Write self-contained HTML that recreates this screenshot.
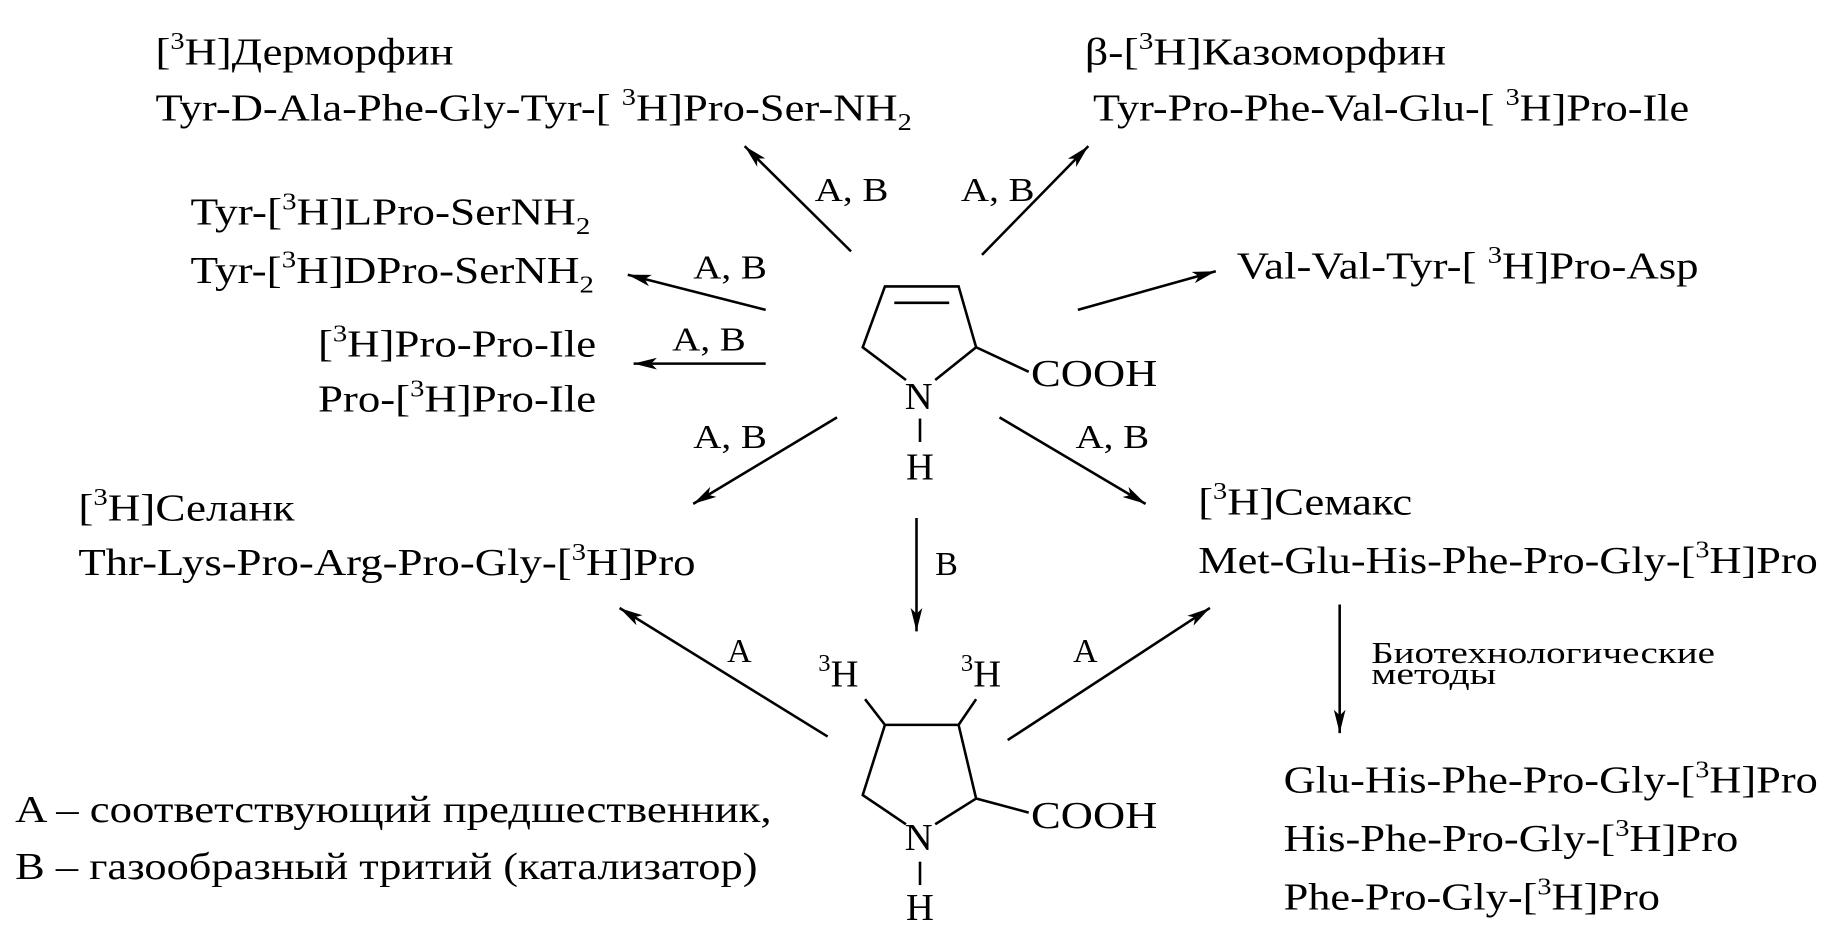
<!DOCTYPE html>
<html><head><meta charset="utf-8"><style>
html,body{margin:0;padding:0;background:#fff;}
svg{display:block;}
text{font-family:"Liberation Serif",serif;font-size:33px;fill:#000;}
.s{font-size:21px;}
.l{font-size:29px;}
</style></head><body>
<svg width="1833" height="933" viewBox="0 0 1568 798" preserveAspectRatio="none" xmlns="http://www.w3.org/2000/svg">
<defs><marker id="a" viewBox="0 0 20 10" refX="20" refY="5" markerWidth="20" markerHeight="10" markerUnits="userSpaceOnUse" orient="auto"><path d="M0,0 L20,5 L0,10 L5,5 Z" fill="#000"/></marker></defs>
<g stroke="#000" stroke-width="2.2" fill="none" marker-end="url(#a)">
<line x1="728" y1="215" x2="637" y2="125"/>
<line x1="840" y1="218" x2="931" y2="125"/>
<line x1="655" y1="265" x2="537" y2="235"/>
<line x1="655" y1="311" x2="542" y2="311"/>
<line x1="922" y1="265" x2="1040" y2="232"/>
<line x1="716" y1="357" x2="593" y2="431"/>
<line x1="855" y1="357" x2="980" y2="431"/>
<line x1="784" y1="443" x2="784" y2="540"/>
<line x1="708" y1="630" x2="530" y2="520"/>
<line x1="862" y1="633" x2="1035" y2="520"/>
<line x1="1146" y1="517" x2="1146" y2="627"/>
</g>
<g stroke="#000" stroke-width="2.2" fill="none">
<polyline points="775,325 738,297 757,245 820,245 835,297 800,325"/>
<line x1="765" y1="259" x2="812" y2="259"/>
<line x1="835" y1="297" x2="880" y2="318"/>
<line x1="787" y1="358" x2="787" y2="378"/>
<polyline points="775,705 738,680 757,620 820,620 835,683 800,705"/>
<line x1="835" y1="683" x2="880" y2="695"/>
<line x1="757" y1="620" x2="740" y2="598"/>
<line x1="820" y1="620" x2="835" y2="598"/>
<line x1="787" y1="737" x2="787" y2="757"/>
</g>
<text x="774" y="350">N</text><text x="775" y="410">H</text>
<text x="882" y="330" textLength="108" lengthAdjust="spacingAndGlyphs">COOH</text>
<text x="774" y="727">N</text><text x="775" y="787">H</text>
<text x="882" y="708" textLength="108" lengthAdjust="spacingAndGlyphs">COOH</text>
<text x="700" y="587"><tspan class="s" dy="-13">3</tspan><tspan dy="13">H</tspan></text>
<text x="822" y="587"><tspan class="s" dy="-13">3</tspan><tspan dy="13">H</tspan></text>

<text x="133" y="55" textLength="255" lengthAdjust="spacingAndGlyphs">[<tspan class="s" dy="-13">3</tspan><tspan dy="13">H]Дерморфин</tspan></text>
<text x="133" y="103" textLength="647" lengthAdjust="spacingAndGlyphs">Tyr-D-Ala-Phe-Gly-Tyr-[ <tspan class="s" dy="-13">3</tspan><tspan dy="13">H]Pro-Ser-NH</tspan><tspan class="s" dy="8">2</tspan></text>
<text x="928" y="55" textLength="309" lengthAdjust="spacingAndGlyphs">β-[<tspan class="s" dy="-13">3</tspan><tspan dy="13">H]Казоморфин</tspan></text>
<text x="935" y="103" textLength="510" lengthAdjust="spacingAndGlyphs">Tyr-Pro-Phe-Val-Glu-[ <tspan class="s" dy="-13">3</tspan><tspan dy="13">H]Pro-Ile</tspan></text>
<text x="163" y="192" textLength="342" lengthAdjust="spacingAndGlyphs">Tyr-[<tspan class="s" dy="-13">3</tspan><tspan dy="13">H]LPro-SerNH</tspan><tspan class="s" dy="8">2</tspan></text>
<text x="163" y="242" textLength="345" lengthAdjust="spacingAndGlyphs">Tyr-[<tspan class="s" dy="-13">3</tspan><tspan dy="13">H]DPro-SerNH</tspan><tspan class="s" dy="8">2</tspan></text>
<text x="1058" y="238" textLength="395" lengthAdjust="spacingAndGlyphs">Val-Val-Tyr-[ <tspan class="s" dy="-13">3</tspan><tspan dy="13">H]Pro-Asp</tspan></text>
<text x="272" y="305" textLength="238" lengthAdjust="spacingAndGlyphs">[<tspan class="s" dy="-13">3</tspan><tspan dy="13">H]Pro-Pro-Ile</tspan></text>
<text x="272" y="352" textLength="238" lengthAdjust="spacingAndGlyphs">Pro-[<tspan class="s" dy="-13">3</tspan><tspan dy="13">H]Pro-Ile</tspan></text>
<text x="67" y="445" textLength="185" lengthAdjust="spacingAndGlyphs">[<tspan class="s" dy="-13">3</tspan><tspan dy="13">H]Селанк</tspan></text>
<text x="67" y="492" textLength="528" lengthAdjust="spacingAndGlyphs">Thr-Lys-Pro-Arg-Pro-Gly-[<tspan class="s" dy="-13">3</tspan><tspan dy="13">H]Pro</tspan></text>
<text x="1025" y="440" textLength="183" lengthAdjust="spacingAndGlyphs">[<tspan class="s" dy="-13">3</tspan><tspan dy="13">H]Семакс</tspan></text>
<text x="1025" y="490" textLength="530" lengthAdjust="spacingAndGlyphs">Met-Glu-His-Phe-Pro-Gly-[<tspan class="s" dy="-13">3</tspan><tspan dy="13">H]Pro</tspan></text>
<text x="1173" y="567" style="font-size:26px" textLength="294" lengthAdjust="spacingAndGlyphs">Биотехнологические</text>
<text x="1173" y="585" style="font-size:26px" textLength="107" lengthAdjust="spacingAndGlyphs">методы</text>
<text x="1098" y="678" textLength="457" lengthAdjust="spacingAndGlyphs">Glu-His-Phe-Pro-Gly-[<tspan class="s" dy="-13">3</tspan><tspan dy="13">H]Pro</tspan></text>
<text x="1098" y="728" textLength="389" lengthAdjust="spacingAndGlyphs">His-Phe-Pro-Gly-[<tspan class="s" dy="-13">3</tspan><tspan dy="13">H]Pro</tspan></text>
<text x="1098" y="778" textLength="322" lengthAdjust="spacingAndGlyphs">Phe-Pro-Gly-[<tspan class="s" dy="-13">3</tspan><tspan dy="13">H]Pro</tspan></text>
<text x="13" y="703" textLength="647" lengthAdjust="spacingAndGlyphs">A – соответствующий предшественник,</text>
<text x="13" y="752" textLength="635" lengthAdjust="spacingAndGlyphs">B – газообразный тритий (катализатор)</text>

<text class="l" x="697" y="172" textLength="63" lengthAdjust="spacingAndGlyphs">A, B</text>
<text class="l" x="822" y="172" textLength="63" lengthAdjust="spacingAndGlyphs">A, B</text>
<text class="l" x="593" y="238" textLength="63" lengthAdjust="spacingAndGlyphs">A, B</text>
<text class="l" x="575" y="300" textLength="63" lengthAdjust="spacingAndGlyphs">A, B</text>
<text class="l" x="593" y="383" textLength="63" lengthAdjust="spacingAndGlyphs">A, B</text>
<text class="l" x="920" y="383" textLength="63" lengthAdjust="spacingAndGlyphs">A, B</text>
<text class="l" x="800" y="492">B</text>
<text class="l" x="622" y="566">A</text>
<text class="l" x="918" y="566">A</text>
</svg>
</body></html>
